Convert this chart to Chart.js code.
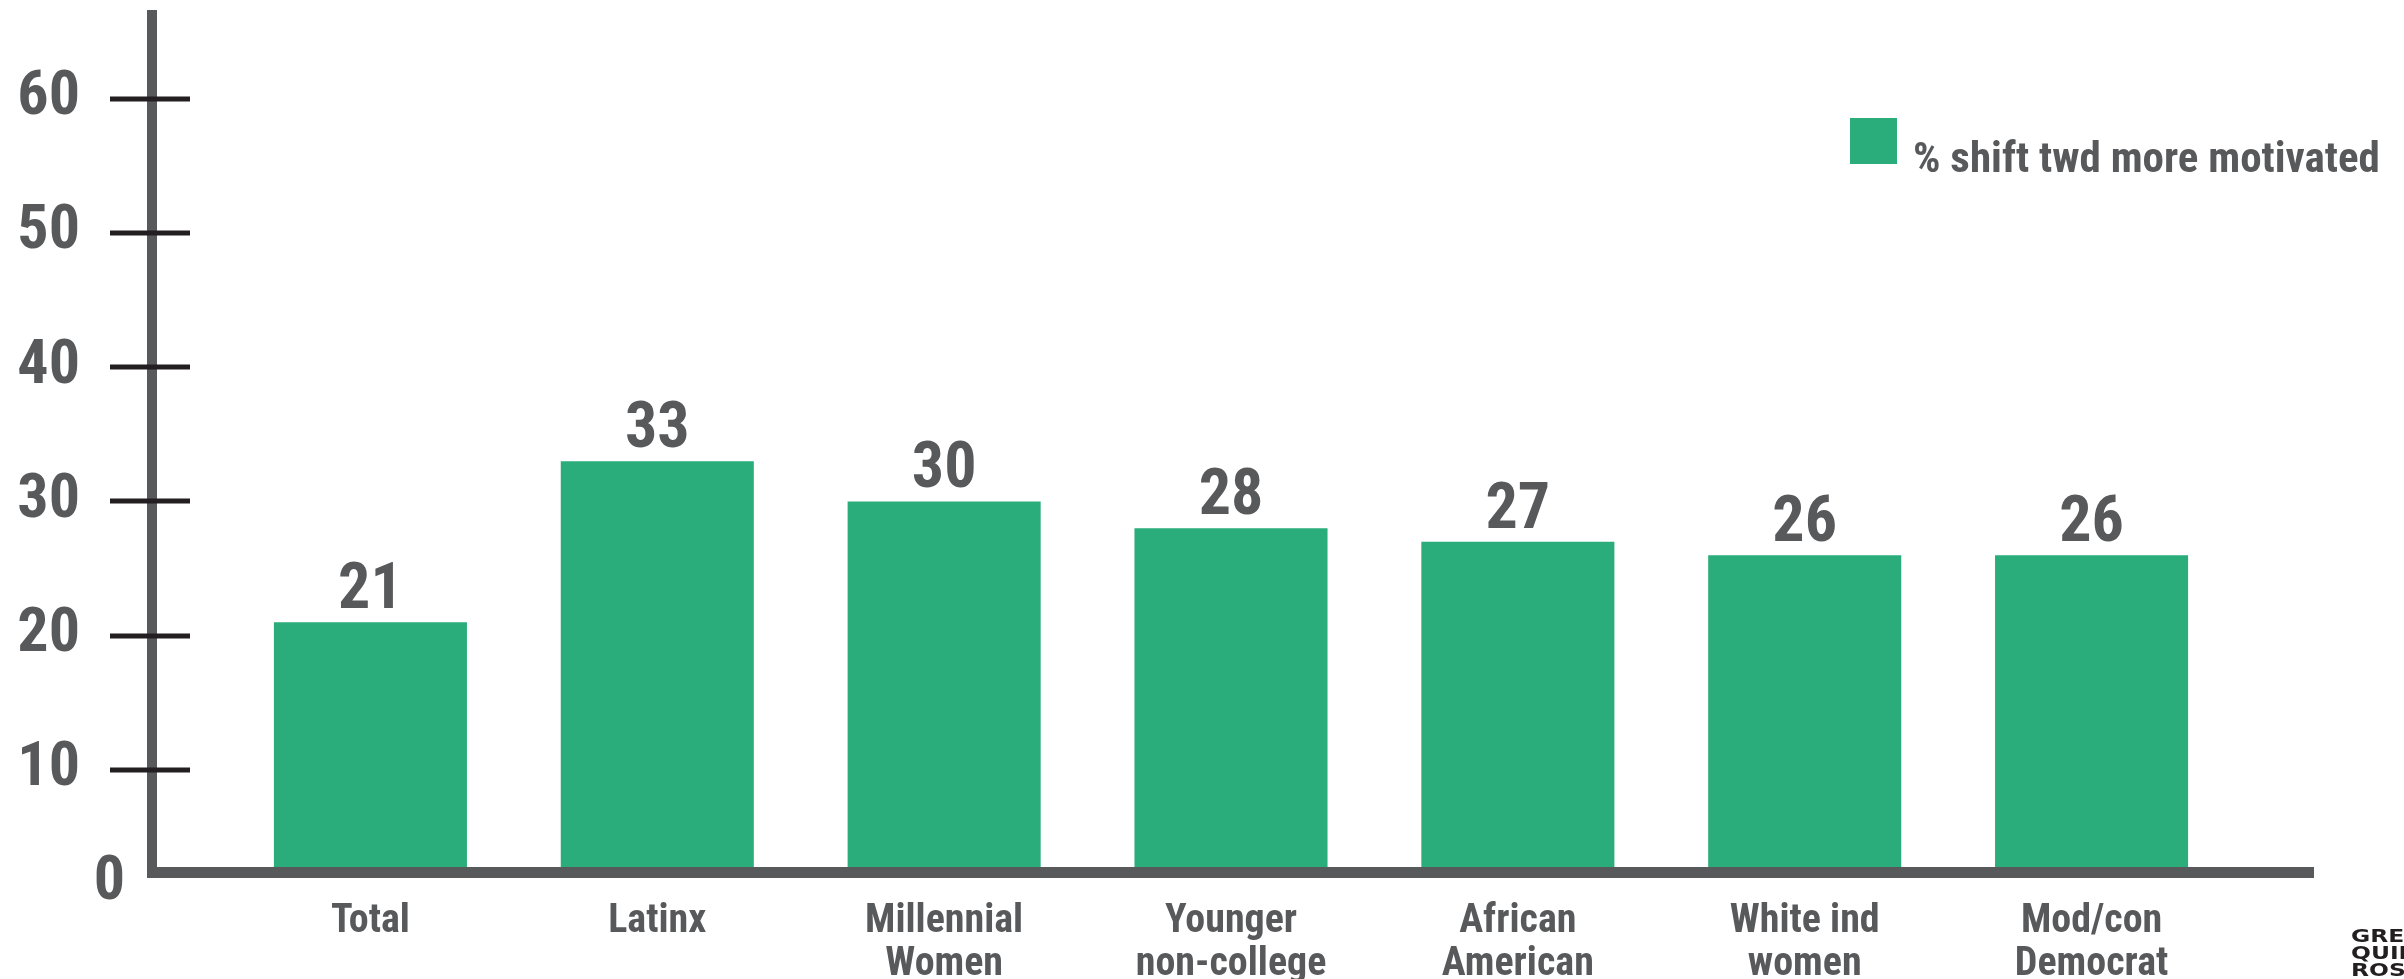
<!DOCTYPE html>
<html><head><meta charset="utf-8">
<script src="https://cdn.jsdelivr.net/npm/chart.js@4.4.1/dist/chart.umd.min.js"></script>
<style>html,body{margin:0;padding:0;background:#fff;overflow:hidden}canvas{display:block}</style>
</head><body>
<canvas id="c" width="2404" height="979"></canvas>
<script>
// ---- data ----
const categories = [["Total"],["Latinx"],["Millennial","Women"],["Younger","non-college"],["African","American"],["White ind","women"],["Mod/con","Democrat"]];
const seriesLabel = "% shift twd more motivated";
const values = [21, 33, 30, 28, 27, 26, 26];
const yTickValues = [10, 20, 30, 40, 50, 60];
const yZeroLabel = "0";
const yMin = 2.4;
const yMax = 66.6;
const logoLines = ["GREENBERG", "QUINLAN", "ROSNER"];

// ---- styles ----
const GREEN = "#2aad7a";
const GRAY = "#58595b";
const DARK = "#231f20";
const FONT = "'Roboto Condensed', Roboto, sans-serif";

const decorPlugin = {
  id: "decor",
  afterDatasetsDraw(chart) {
    const ctx = chart.ctx;
    const ca = chart.chartArea;
    const ys = chart.scales.y;
    const axisX = ca.left - 75;
    ctx.save();
    // data labels
    ctx.fillStyle = GRAY;
    ctx.font = "bold 64px " + FONT;
    ctx.textAlign = "center";
    ctx.textBaseline = "alphabetic";
    const meta = chart.getDatasetMeta(0);
    meta.data.forEach((bar, i) => {
      ctx.fillText(String(chart.data.datasets[0].data[i]), bar.x, bar.y - 14);
    });
    // axis lines
    ctx.fillStyle = GRAY;
    ctx.fillRect(axisX - 5, ca.top, 10, ca.bottom + 6 - ca.top);
    ctx.fillRect(axisX - 5, ca.bottom - 5, (ca.right + 79) - (axisX - 5), 11);
    // tick marks crossing the axis
    ctx.fillStyle = DARK;
    ys.ticks.forEach(t => {
      const y = ys.getPixelForValue(t.value);
      ctx.fillRect(axisX - 42, Math.round(y) - 2.5, 80, 5);
    });
    // zero label at the axis corner
    ctx.fillStyle = GRAY;
    ctx.font = "bold 62px " + FONT;
    ctx.textAlign = "right";
    ctx.textBaseline = "alphabetic";
    ctx.fillText(yZeroLabel, axisX - 27, ca.bottom + 27);
    // legend
    const ds = chart.data.datasets[0];
    ctx.fillStyle = ds.backgroundColor;
    ctx.fillRect(1850, 118, 47, 46);
    ctx.fillStyle = GRAY;
    ctx.font = "bold 43px " + FONT;
    ctx.textAlign = "left";
    ctx.fillText(ds.label, 1913, 172);
    // logo (clipped at the right edge, as in the source)
    ctx.fillStyle = DARK;
    ctx.font = "bold 18px 'DejaVu Sans', sans-serif";
    ctx.translate(2351, 0);
    ctx.scale(1.3, 1);
    logoLines.forEach((s, i) => ctx.fillText(s, 0, 942 + i * 17));
    ctx.restore();
  }
};

new Chart(document.getElementById("c"), {
  type: "bar",
  data: {
    labels: categories,
    datasets: [{
      label: seriesLabel,
      data: values,
      backgroundColor: GREEN,
      barPercentage: 0.673,
      categoryPercentage: 1
    }]
  },
  options: {
    responsive: false,
    animation: false,
    devicePixelRatio: 1,
    layout: { padding: { top: 10, right: 169, bottom: 0, left: 0 } },
    plugins: { legend: { display: false }, tooltip: { enabled: false } },
    scales: {
      x: {
        grid: { display: false, drawTicks: false },
        border: { display: false },
        ticks: {
          color: GRAY,
          font: { family: FONT, size: 40, weight: "bold", lineHeight: 1.075 },
          padding: 28, maxRotation: 0, autoSkip: false
        },
        afterFit(s) { s.height = 107; s.paddingLeft = 0; s.paddingRight = 0; }
      },
      y: {
        min: yMin, max: yMax,
        grid: { display: false, drawTicks: false },
        border: { display: false },
        afterBuildTicks(s) { s.ticks = yTickValues.map(v => ({ value: v })); },
        ticks: { color: GRAY, font: { family: FONT, size: 62, weight: "bold" }, padding: 147 },
        afterFit(s) { s.width = 227; s.paddingTop = 0; s.paddingBottom = 0; }
      }
    }
  },
  plugins: [decorPlugin]
});
</script>
</body></html>
